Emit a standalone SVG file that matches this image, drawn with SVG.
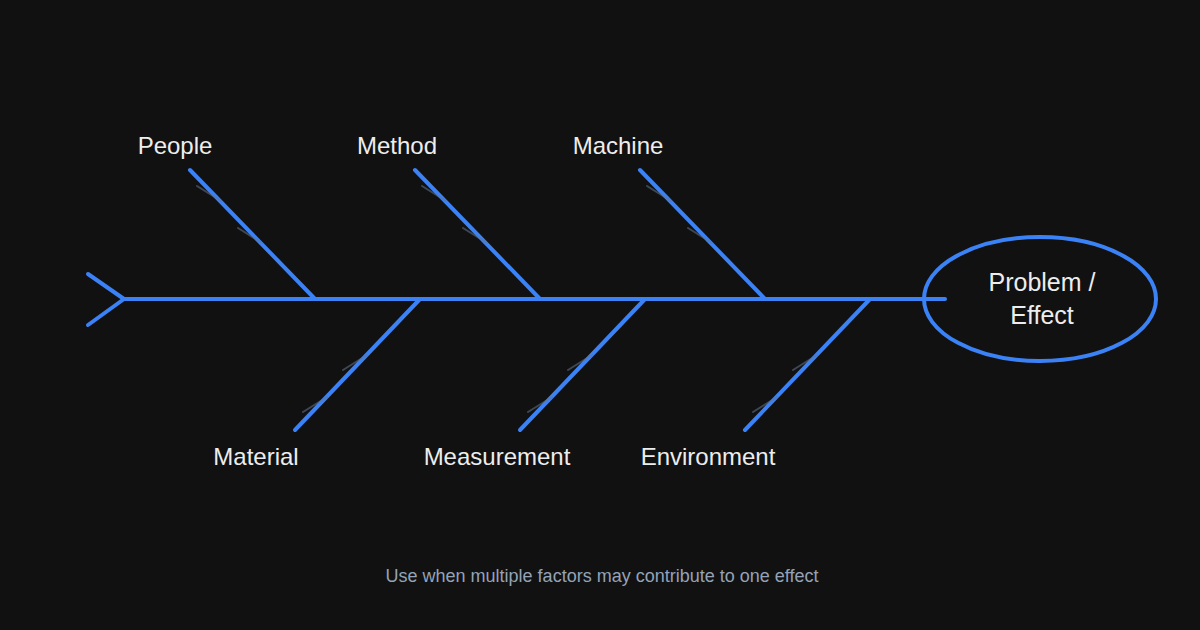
<svg xmlns="http://www.w3.org/2000/svg" width="1200" height="630" viewBox="0 0 1200 630">
<style>
.bone{stroke:#3b82f6;stroke-width:4;stroke-linecap:round;fill:none}
.tick{stroke:#64748b;stroke-width:2;stroke-linecap:round;opacity:0.55}
.lbl{font-family:"Liberation Sans",Arial,sans-serif;font-size:24px;fill:#ededed;text-anchor:middle}
.big{font-size:25px}
.foot{font-family:"Liberation Sans",Arial,sans-serif;font-size:18px;fill:#94a3b8;text-anchor:middle}
</style>
<rect width="1200" height="630" fill="#111111"/>
<g id="connectors">
<line class="bone" x1="124" y1="299" x2="945" y2="299"/>
<line class="bone" x1="88" y1="274" x2="124" y2="299"/>
<line class="bone" x1="88" y1="325" x2="124" y2="299"/>
<line class="bone" x1="190" y1="170" x2="315" y2="299"/>
<line class="bone" x1="415" y1="170" x2="540" y2="299"/>
<line class="bone" x1="640" y1="170" x2="765" y2="299"/>
<line class="bone" x1="295" y1="430" x2="420" y2="299"/>
<line class="bone" x1="520" y1="430" x2="645" y2="299"/>
<line class="bone" x1="745" y1="430" x2="870" y2="299"/>
<line class="tick" x1="197" y1="186" x2="221" y2="201"/>
<line class="tick" x1="238" y1="228" x2="262" y2="243"/>
<line class="tick" x1="422" y1="186" x2="446" y2="201"/>
<line class="tick" x1="463" y1="228" x2="487" y2="243"/>
<line class="tick" x1="647" y1="186" x2="671" y2="201"/>
<line class="tick" x1="688" y1="228" x2="712" y2="243"/>
<line class="tick" x1="303" y1="412" x2="327" y2="397"/>
<line class="tick" x1="343" y1="370" x2="367" y2="355"/>
<line class="tick" x1="528" y1="412" x2="552" y2="397"/>
<line class="tick" x1="568" y1="370" x2="592" y2="355"/>
<line class="tick" x1="753" y1="412" x2="777" y2="397"/>
<line class="tick" x1="793" y1="370" x2="817" y2="355"/>
</g>
<g id="effect">
<ellipse cx="1040" cy="299" rx="116" ry="62" fill="none" stroke="#3b82f6" stroke-width="4"/>
<text class="lbl big" x="1042" y="291">Problem /</text>
<text class="lbl big" x="1042" y="324">Effect</text>
</g>
<g id="people"><text class="lbl" x="175" y="154">People</text></g>
<g id="method"><text class="lbl" x="397" y="154">Method</text></g>
<g id="machine"><text class="lbl" x="618" y="154">Machine</text></g>
<g id="material"><text class="lbl" x="256" y="465">Material</text></g>
<g id="measurement"><text class="lbl" x="497" y="465">Measurement</text></g>
<g id="environment"><text class="lbl" x="708" y="465">Environment</text></g>
<text class="foot" x="602" y="582">Use when multiple factors may contribute to one effect</text>
</svg>
